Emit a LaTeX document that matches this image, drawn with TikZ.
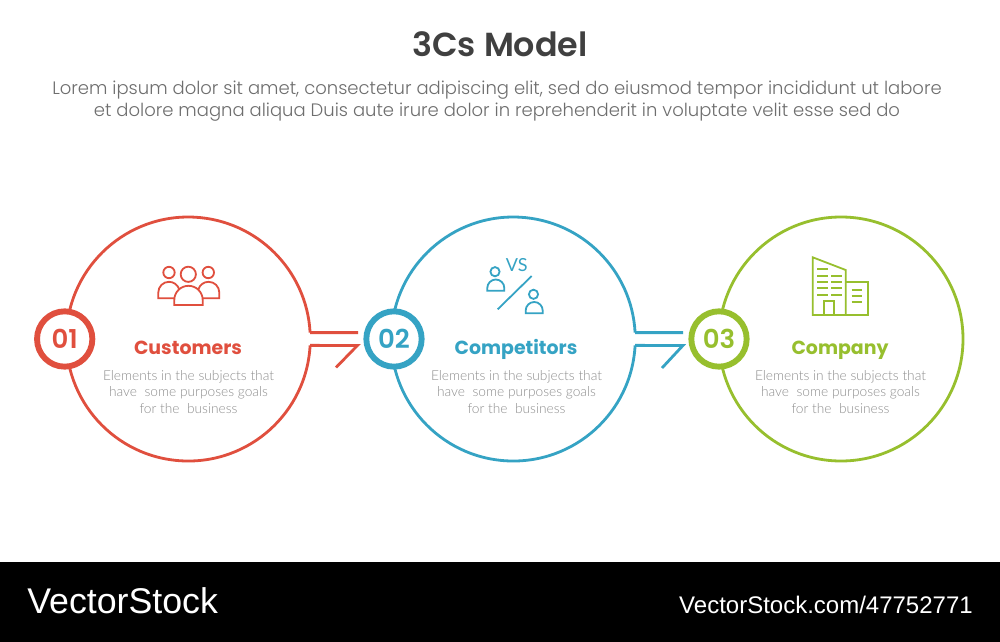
\documentclass[tikz,border=0pt]{standalone}
\usepackage{fontspec}
\setmainfont{Lato}
\newfontfamily\pop{Poppins}
\newfontfamily\popsemi{Poppins SemiBold}
\newfontfamily\poplight{Poppins Light}
\newfontfamily\latolight{Lato Light}
\newfontfamily\wmfont{Liberation Sans}
\definecolor{cred}{HTML}{E04F3E}
\definecolor{cblue}{HTML}{35A3C4}
\definecolor{cgreen}{HTML}{97BF2E}
\definecolor{titlegrey}{HTML}{404040}
\definecolor{leadgrey}{HTML}{6E6E6E}
\definecolor{descgrey}{HTML}{8E8E8E}
\tikzset{
  ringbox/.style={circle,inner sep=0pt,minimum size=183pt},
  ringline/.style={line width=2.1pt},
  badge/.style={circle,draw,fill=white,line width=4.4pt,inner sep=0pt,minimum size=41.5pt,font=\popsemi\fontsize{19.5}{19.5}\selectfont},
  heading/.style={inner sep=0pt,anchor=base,font=\pop\bfseries\fontsize{14.2}{16}\selectfont},
  desc/.style={inner sep=0pt,align=center,text=descgrey,font=\latolight\fontsize{10.3}{12.4}\selectfont},
  iconline/.style={line width=1.35pt,line join=miter},
}
\begin{document}
\begin{tikzpicture}[x=0.75pt,y=-0.75pt]
\useasboundingbox (0,0) rectangle (1000,642);
\fill[white] (0,0) rectangle (1000,642);
\fill[black] (0,562) rectangle (1000,642);
\node[inner sep=0pt,text=titlegrey,font=\popsemi\fontsize{25}{28}\selectfont] (title) at (500,44.3) {3Cs Model};
\node[inner sep=0pt,align=center,text=leadgrey,font=\poplight\fontsize{13.5}{16.6}\selectfont] (lead) at (497,101.3) {Lorem ipsum dolor sit amet, consectetur adipiscing elit, sed do eiusmod tempor incididunt ut labore\\et dolore magna aliqua Duis aute irure dolor in reprehenderit in voluptate velit esse sed do};
% big rings
\node[ringbox] (c1) at (188,339) {};
\node[ringbox] (c2) at (513,339) {};
\node[ringbox] (c3) at (841,339) {};
\draw[ringline,cred] (c1.-3) arc[start angle=3,delta angle=354,radius=122];
\draw[ringline,cblue] (c2.-3) arc[start angle=3,delta angle=354,radius=122];
\draw[ringline,cgreen] (c3.center) ++(122,0) arc[start angle=0,delta angle=360,radius=122];
% connectors
\coordinate (a1) at (358,332.6);
\coordinate (b1) at (357.5,345.4);
\coordinate (t1) at (336,367.5);
\coordinate (a2) at (683,332.6);
\coordinate (b2) at (683,345.4);
\coordinate (t2) at (662,368);
\draw[ringline,cred] (c1.3) -- (a1);
\draw[ringline,cred] (c1.-3) -- (b1) -- (t1);
\draw[ringline,cblue] (c2.3) -- (a2);
\draw[ringline,cblue] (c2.-3) -- (b2) -- (t2);
% badges
\node[badge,draw=cred,text=cred] (n1) at (64.7,339) {01};
\node[badge,draw=cblue,text=cblue] (n2) at (394,339) {02};
\node[badge,draw=cgreen,text=cgreen] (n3) at (719,339) {03};
% headings
\node[heading,text=cred] (h1) at (188,354) {Customers};
\node[heading,text=cblue] (h2) at (516,354) {Competitors};
\node[heading,text=cgreen] (h3) at (840,354) {Company};
% descriptions
\node[desc] (d1) at (188.5,392) {Elements in the subjects that\\have\ \ some purposes goals\\for the\ \ business};
\node[desc] (d2) at (516.5,392) {Elements in the subjects that\\have\ \ some purposes goals\\for the\ \ business};
\node[desc] (d3) at (840.5,392) {Elements in the subjects that\\have\ \ some purposes goals\\for the\ \ business};
% icon 1: people
\begin{scope}[iconline,draw=cred]
\draw (169,272.5) circle[radius=5.7];
\draw (188.3,274.3) circle[radius=7.6];
\draw (208.3,272.5) circle[radius=5.7];
\draw (174.3,298.3) -- (158.3,298.3) -- (158.3,292.5) arc[start angle=180,delta angle=163,radius=10.7];
\draw (202.7,298.3) -- (219.3,298.3) -- (219.3,292.5) arc[start angle=0,delta angle=-163,radius=10.7];
\draw (174.3,305) -- (174.3,300) arc[start angle=180,delta angle=180,radius=14.2] -- (202.7,305) -- cycle;
\end{scope}
% icon 2: vs
\begin{scope}[iconline,draw=cblue]
\draw (495,271.7) circle[radius=4.6];
\draw (487.3,290.7) -- (487.3,288) arc[start angle=180,delta angle=180,radius=8.5] -- (504.3,290.7) -- cycle;
\draw (533.5,294.3) circle[radius=4.6];
\draw (525.7,313.3) -- (525.7,310.5) arc[start angle=180,delta angle=180,radius=8.5] -- (542.7,313.3) -- cycle;
\draw (531.7,276) -- (497.7,309.3);
\end{scope}
\node[inner sep=0pt,text=cblue,font=\fontsize{13.5}{14}\selectfont] (vs) at (516.7,265.5) {VS};
% icon 3: building
\begin{scope}[iconline,draw=cgreen]
\draw (812.7,257.3) -- (845.7,270) -- (845.7,315) -- (812.7,315) -- cycle;
\draw (845.7,281.7) -- (868.3,281.7) -- (868.3,315) -- (845.7,315);
\draw (824.3,315) -- (824.3,301) -- (834.3,301) -- (834.3,315);
\draw (817.3,269.3) -- (828.3,269.3);
\foreach \yy in {275.7,282,288.3,294.7}{
  \draw (817.3,\yy) -- (828.3,\yy);
  \draw (831,\yy) -- (841.7,\yy);
}
\foreach \yy in {290,296,302.3}{
  \draw (851.7,\yy) -- (862.3,\yy);
}
\end{scope}
% watermark band
\node[inner sep=0pt,anchor=base west,text=white,font=\wmfont\fontsize{26.8}{28}\selectfont] (wm1) at (27,613.3) {VectorStock};
\node[inner sep=0pt,anchor=base east,text=white,font=\wmfont\fontsize{18}{19}\selectfont] (wm2) at (973,613) {VectorStock.com/47752771};
\end{tikzpicture}
\end{document}
